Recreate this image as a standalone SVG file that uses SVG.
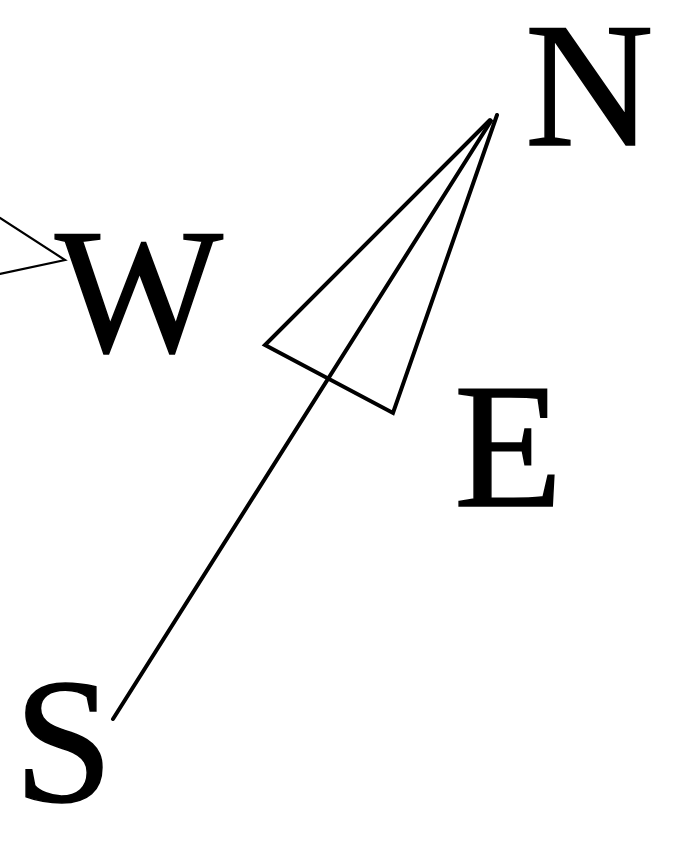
<svg xmlns="http://www.w3.org/2000/svg" width="691" height="844" viewBox="0 0 691 844">
<style>
.lbl{font-family:"Liberation Serif","Times New Roman",serif;font-size:178px;fill:#000;stroke:#000;stroke-width:1.5}
.ln{fill:none;stroke:#000;stroke-linejoin:miter;stroke-linecap:round}
</style>
<rect width="691" height="844" fill="#fff"/>
<g id="connectors">
<polyline class="ln" stroke-width="4" points="497,115 393,413 265,345 490,120"/>
<line class="ln" stroke-width="4" x1="113" y1="719" x2="491" y2="121"/>
<polyline class="ln" stroke-width="2.2" points="0,218 65,260 0,274"/>
</g>
<g id="N"><text class="lbl" x="525" y="145">N</text></g>
<g id="W"><text class="lbl" x="55" y="351">W</text></g>
<g id="E"><text class="lbl" x="454" y="506">E</text></g>
<g id="S"><text class="lbl" x="14" y="801">S</text></g>
</svg>
